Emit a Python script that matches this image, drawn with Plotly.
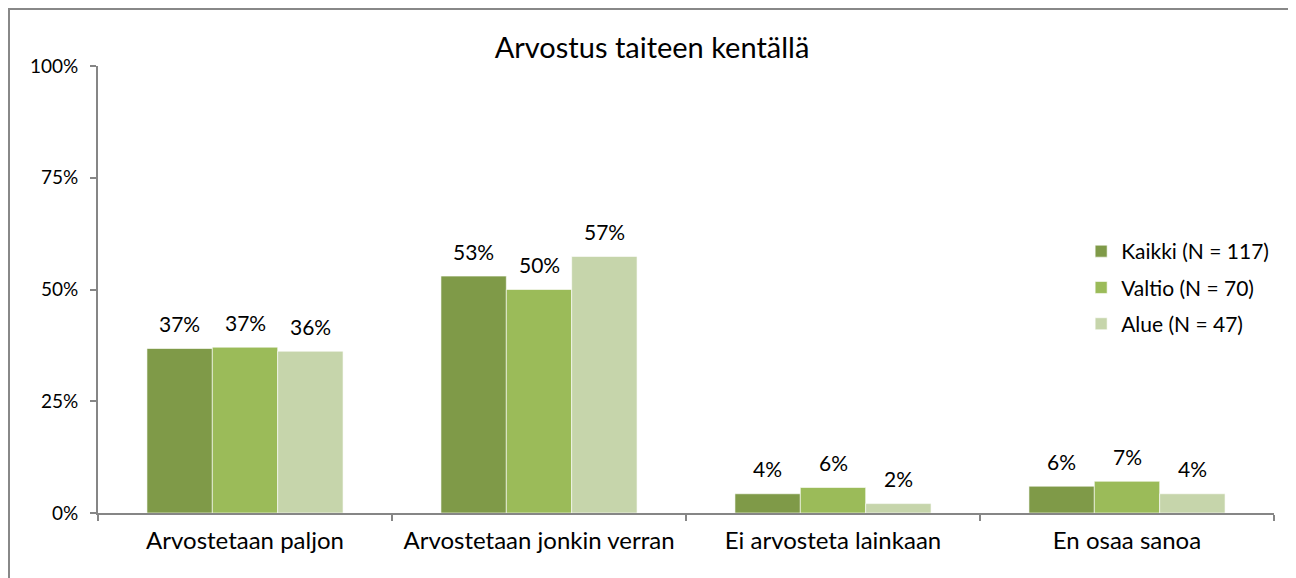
import plotly.graph_objects as go

categories = ['Arvostetaan paljon', 'Arvostetaan jonkin verran', 'Ei arvosteta lainkaan', 'En osaa sanoa']
kaikki = [0.368, 0.530, 0.043, 0.060]
valtio = [0.371, 0.500, 0.057, 0.071]
alue = [0.362, 0.574, 0.021, 0.043]
series_names = ['Kaikki (N = 117)', 'Valtio (N = 70)', 'Alue (N = 47)']
colors = ['#7F9A48', '#9BBB59', '#C6D5AB']
y_ticks = [0, 0.25, 0.5, 0.75, 1.0]
y_tick_labels = ['0%', '25%', '50%', '75%', '100%']

font_family = 'Lato, Carlito, Calibri, sans-serif'

# figure geometry (page has 8px body margin)
W, H = 1288, 570
ml, mr, mt, mb = 90, 22, 58, 65
plot_w = W - ml - mr
plot_h = H - mt - mb
bargap = 0.333
bar_w = plot_w / len(categories) * (1 - bargap) / 3


def px(fx):
    return (fx - ml) / plot_w


def py(fy):
    return (H - mb - fy) / plot_h


fig = go.Figure()
annotations = []
for i, (name, vals, col) in enumerate(zip(series_names, [kaikki, valtio, alue], colors)):
    fig.add_trace(go.Bar(
        x=categories, y=vals, name=name, legendgroup=name,
        marker=dict(color=col, line=dict(color='rgba(255,255,255,0.6)', width=1)),
    ))
    # data labels above each bar
    for c, v in zip(categories, vals):
        annotations.append(dict(
            x=c, y=v, xref='x', yref='y', text=f'{round(v * 100):.0f}%',
            showarrow=False, xshift=(i - 1) * bar_w, yshift=25,
            yanchor='middle', font=dict(size=21, color='black'),
        ))

# Customize plot
fig.update_layout(
    width=W,
    height=H,
    margin=dict(l=ml, r=mr, t=mt, b=mb, autoexpand=False),
    paper_bgcolor='white',
    plot_bgcolor='white',
    font=dict(family=font_family, color='black'),
    title=dict(text='Arvostus taiteen kentällä', x=0.5, xanchor='center',
               y=0.93, yanchor='middle', font=dict(size=29, color='black')),
    barmode='group',
    bargap=bargap,
    bargroupgap=0,
    showlegend=True,
    legend=dict(x=0.836, y=py(223), xanchor='left', yanchor='top',
                font=dict(size=21), tracegroupgap=6, bgcolor='rgba(0,0,0,0)'),
    xaxis=dict(showline=True, linecolor='#868686', linewidth=2,
               ticks='outside', tickson='boundaries', ticklen=6,
               tickcolor='#868686', tickwidth=2, ticklabelstandoff=5,
               tickfont=dict(size=24), showgrid=False),
    yaxis=dict(range=[0, 1], tickvals=y_ticks, ticktext=y_tick_labels,
               showline=True, linecolor='#868686', linewidth=2,
               ticks='outside', ticklen=6, tickcolor='#868686', tickwidth=2,
               ticklabelstandoff=8,
               tickfont=dict(size=19), showgrid=False, zeroline=False),
    annotations=annotations,
    shapes=[dict(type='rect', xref='paper', yref='paper',
                 x0=px(1), x1=px(1286), y0=py(620), y1=py(1),
                 line=dict(color='#888888', width=2))],
)

fig.write_html('out.html')
